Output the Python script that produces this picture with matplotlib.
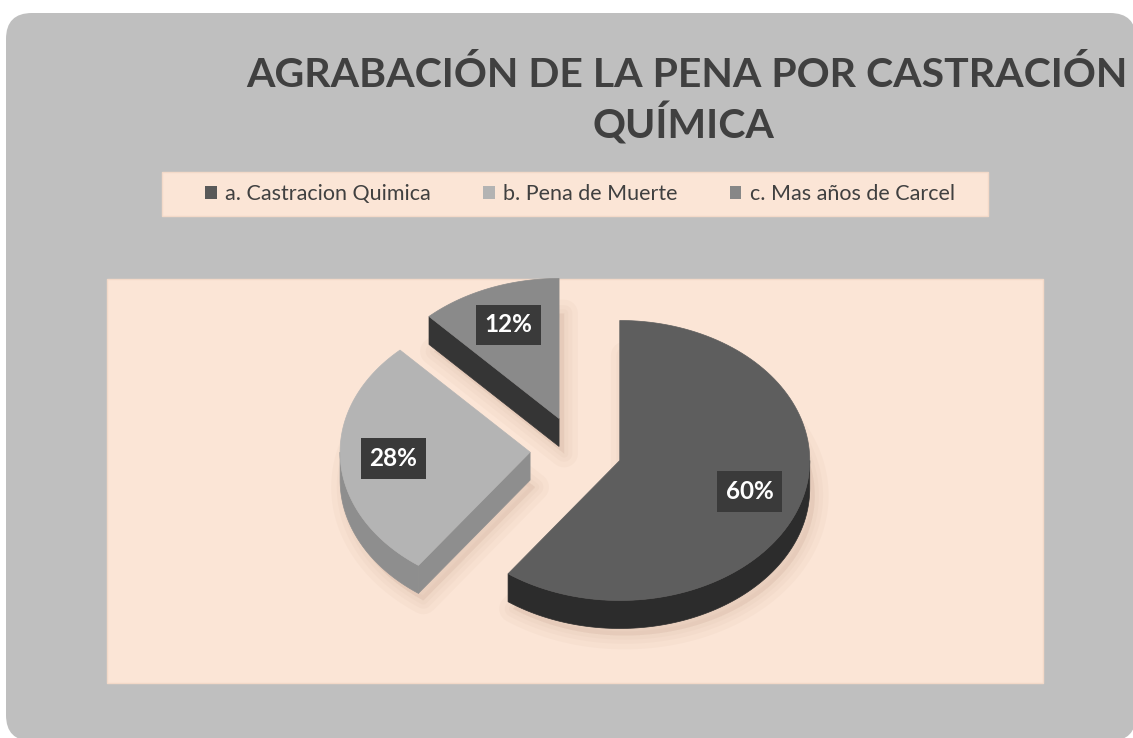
import numpy as np
import matplotlib
matplotlib.use('Agg')
import matplotlib.pyplot as plt
from matplotlib.patches import FancyBboxPatch, Rectangle, Polygon, Patch

labels = ['a. Castracion Quimica', 'b. Pena de Muerte', 'c. Mas años de Carcel']
values = [60, 28, 12]
pct_labels = ['60%', '28%', '12%']
top_colors = ['#5e5e5e', '#b4b4b4', '#8a8a8a']
side_colors = ['#2c2c2c', '#8e8e8e', '#353535']
legend_colors = ['#595959', '#b3b3b3', '#878787']

plt.rcParams['font.family'] = ['Lato', 'DejaVu Sans']

W, H = 1133, 738
fig = plt.figure(figsize=(W / 100, H / 100), dpi=100)
fig.patch.set_facecolor('white')
ax = fig.add_axes([0, 0, 1, 1])
ax.set_xlim(0, W)
ax.set_ylim(H, 0)
ax.axis('off')

peach = '#fbe5d6'
ax.add_patch(FancyBboxPatch((6, 13), 1130, 728, boxstyle='round,pad=0,rounding_size=26',
                            fc='#bfbfbf', ec='none', zorder=0))
ax.add_patch(Rectangle((107, 279), 936, 404, fc=peach, ec='#f3d9c8', lw=1, zorder=1))
ax.add_patch(Rectangle((162, 172), 826, 44, fc=peach, ec='#f3d9c8', lw=1, zorder=1))

ax.text(687, 87, 'AGRABACIÓN DE LA PENA POR CASTRACIÓN', ha='center', va='baseline',
        fontsize=29.5, fontweight='bold', color='#404040', zorder=2)
ax.text(683, 139, 'QUÍMICA', ha='center', va='baseline',
        fontsize=29.5, fontweight='bold', color='#404040', zorder=2)

# 3D-ish pie, drawn in pixel space
cx, cy = 576, 450
rx, ry = 190, 140
depth = 28
explode = 46

total = float(sum(values))
starts = np.concatenate([[0], np.cumsum(values)[:-1]]) / total * 360
ends = np.cumsum(values) / total * 360


def pt(vx, vy, t, r=1.0):
    t = np.radians(t)
    return vx + r * rx * np.sin(t), vy - r * ry * np.cos(t)


order = [2, 1, 0]
z = 3
for i in order:
    t0, t1 = starts[i], ends[i]
    m = (t0 + t1) / 2
    vx = cx + explode * np.sin(np.radians(m))
    vy = cy - explode * np.cos(np.radians(m)) * ry / rx
    ts = np.linspace(t0, t1, 120)
    arc = np.array([pt(vx, vy, t) for t in ts])
    top = np.vstack([[vx, vy], arc])

    # soft shadow
    for lw in [20, 12, 6]:
        sh = top + np.array([5, depth + 7])
        ax.add_patch(Polygon(sh, closed=True, fc='#c9a893', ec='#c9a893', lw=lw,
                             alpha=0.08, joinstyle='round', zorder=z))
    z += 1

    # straight sides
    mid = np.array(pt(0, 0, m))
    for t in (t0, t1):
        e = np.array(pt(0, 0, t))
        n = np.array([-e[1], e[0]])
        if np.dot(n, mid) > 0:
            n = -n
        if n[1] > 1e-6:
            p = pt(vx, vy, t)
            side = [[vx, vy], p, [p[0], p[1] + depth], [vx, vy + depth]]
            ax.add_patch(Polygon(side, closed=True, fc=side_colors[i], ec=side_colors[i],
                                 lw=0.5, zorder=z))
    # outer curved side (front-facing part)
    a0, a1 = max(t0, 90), min(t1, 270)
    if a1 > a0:
        ta = np.linspace(a0, a1, 120)
        up = np.array([pt(vx, vy, t) for t in ta])
        low = up + np.array([0, depth])
        ax.add_patch(Polygon(np.vstack([up, low[::-1]]), closed=True,
                             fc=side_colors[i], ec=side_colors[i], lw=0.5, zorder=z))
    z += 1
    ax.add_patch(Polygon(top, closed=True, fc=top_colors[i], ec=top_colors[i],
                         lw=0.5, zorder=z))
    z += 1
    lx, ly = pt(vx, vy, m, 0.72)
    ax.text(lx, ly, pct_labels[i], ha='center', va='center', fontsize=17.5,
            fontweight='bold', color='white', zorder=50,
            bbox=dict(boxstyle='square,pad=0.36', fc='#3a3a3a', ec='none'))

handles = [Patch(fc=c, ec='none') for c in legend_colors]
ax.legend(handles, labels, loc='center', bbox_to_anchor=(580 / W, 1 - 194 / H),
          ncol=3, frameon=False, fontsize=15.5, labelcolor='#404040',
          handlelength=0.55, handleheight=0.6, handletextpad=0.4, columnspacing=2.4)

fig.savefig('out.png', dpi=100, facecolor='white')
